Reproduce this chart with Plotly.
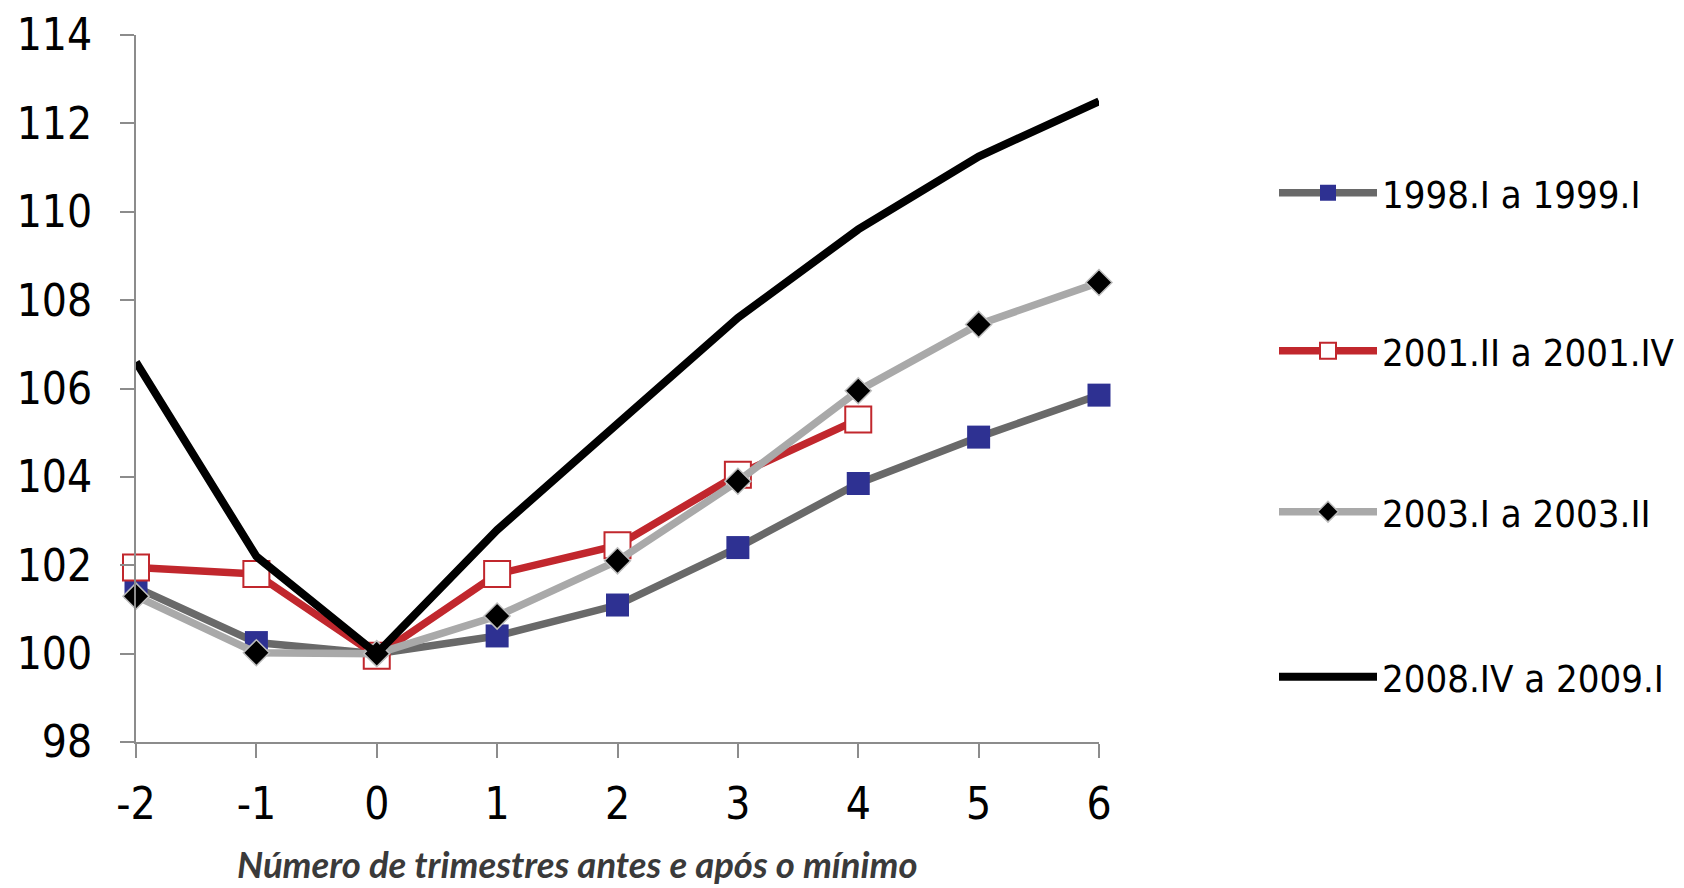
import plotly.graph_objects as go

# ---- data ----
quarters = [-2, -1, 0, 1, 2, 3, 4, 5, 6]
tick_labels = ["-2", "-1", "0", "1", "2", "3", "4", "5", "6"]
y_ticks = [98, 100, 102, 104, 106, 108, 110, 112, 114]

s1998_name = "1998.I a 1999.I"
s1998 = [101.5, 100.25, 100.0, 100.4, 101.1, 102.4, 103.85, 104.9, 105.85]

s2001_name = "2001.II a 2001.IV"
s2001_x = [-2, -1, 0, 1, 2, 3, 4]
s2001 = [101.95, 101.8, 99.95, 101.8, 102.45, 104.05, 105.3]

s2003_name = "2003.I a 2003.II"
s2003 = [101.3, 100.02, 100.0, 100.85, 102.1, 103.9, 105.95, 107.45, 108.4]

s2008_name = "2008.IV a 2009.I"
s2008 = [106.6, 102.2, 100.0, 102.8, 105.2, 107.6, 109.6, 111.25, 112.5]

x_title = "Número de trimestres antes e após o mínimo"

# ---- figure ----
W, H = 1684, 888
L, R, T, B = 136, 1684 - 1099, 35, 888 - 742
plot_w = W - L - R
plot_h = H - T - B

tick_font = "DejaVu Sans Condensed, Liberation Sans, sans-serif"

fig = go.Figure()

fig.add_trace(go.Scatter(
    x=quarters, y=s1998, name=s1998_name, mode="lines+markers",
    line=dict(color="#696969", width=7.5),
    marker=dict(symbol="square", size=23, color="#2e3192", line=dict(width=0)),
    cliponaxis=False, legend="legend"))

fig.add_trace(go.Scatter(
    x=s2001_x, y=s2001, name=s2001_name, mode="lines+markers",
    line=dict(color="#c1272d", width=7.5),
    marker=dict(symbol="square", size=26, color="white", line=dict(width=2, color="#c1272d")),
    cliponaxis=False, legend="legend2"))

fig.add_trace(go.Scatter(
    x=quarters, y=s2003, name=s2003_name, mode="lines+markers",
    line=dict(color="#a9a9a9", width=7.5),
    marker=dict(symbol="diamond", size=20, color="#000000", line=dict(width=1.5, color="#bdbdbd")),
    cliponaxis=False, legend="legend3"))

fig.add_trace(go.Scatter(
    x=quarters, y=s2008, name=s2008_name, mode="lines",
    line=dict(color="#000000", width=8),
    cliponaxis=False, legend="legend4"))

axis_common = dict(
    showline=True, linecolor="#8c8c8c", linewidth=2,
    ticks="outside", ticklen=14, tickwidth=2, tickcolor="#8c8c8c",
    showgrid=False, zeroline=False,
    tickfont=dict(family=tick_font, size=44, color="#000000"),
)

fig.update_xaxes(range=[-2, 6], tickvals=quarters, ticktext=tick_labels,
                 ticklabelstandoff=8, **axis_common)
fig.update_yaxes(range=[98, 114], tickvals=y_ticks,
                 ticklabelstandoff=19, **axis_common)

def leg_y(px):
    return (H - B - px) / plot_h

leg_x = (1274 - L) / plot_w
leg_common = dict(x=leg_x, xanchor="left", yanchor="middle",
                  font=dict(family=tick_font, size=38, color="#000000"),
                  itemwidth=98, bgcolor="rgba(0,0,0,0)", borderwidth=0)

fig.update_layout(
    width=W, height=H,
    margin=dict(l=L, r=R, t=T, b=B, autoexpand=False),
    paper_bgcolor="white", plot_bgcolor="white",
    showlegend=True,
    legend=dict(y=leg_y(193), **leg_common),
    legend2=dict(y=leg_y(351), **leg_common),
    legend3=dict(y=leg_y(512), **leg_common),
    legend4=dict(y=leg_y(677), **leg_common),
    annotations=[dict(
        text=x_title, xref="paper", yref="paper",
        x=(577 - L) / plot_w, y=(H - B - 864) / plot_h,
        xanchor="center", yanchor="middle", showarrow=False,
        font=dict(family="Lato, Open Sans, sans-serif", size=36.5, color="#3a3a3a",
                  weight="bold", style="italic"),
    )],
)

fig.write_html("out.html")
